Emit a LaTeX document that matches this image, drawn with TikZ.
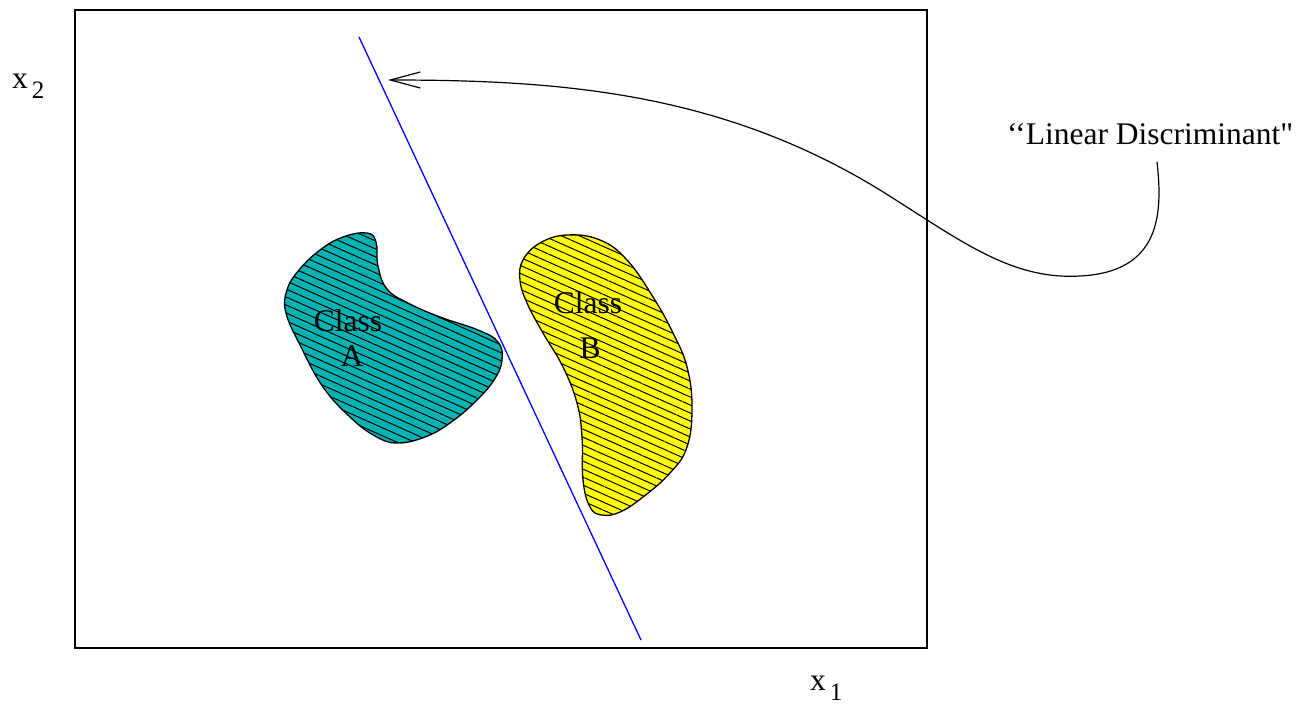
\documentclass[tikz,border=0pt]{standalone}
\usepackage{fontspec}
\setmainfont{Liberation Serif}[Ligatures=TeXOff]
\usetikzlibrary{arrows.meta,patterns.meta}
\definecolor{tealA}{RGB}{0,178,178}
\definecolor{yellowB}{RGB}{255,255,0}
\definecolor{lineblue}{RGB}{0,0,255}
\begin{document}
\begin{tikzpicture}[x=1pt,y=-1pt,
  bigtext/.style={font=\fontsize{31.5}{36}\selectfont, inner sep=0pt},
  blob/.style={draw=black, line width=1.3pt, fill=#1,
    postaction={pattern={Lines[angle=-24,distance=7.3pt,line width=1pt]}, pattern color=black}},
  frame/.style={draw=black, line width=1.3pt},
  discr/.style={draw=lineblue, line width=1.3pt},
  pointer/.style={draw=black, line width=1.2pt, -{Straight Barb[length=30pt,width=16pt,line width=1.2pt]}}
]
\useasboundingbox (0,0) rectangle (1303,705);
\path[fill=white] (0,0) rectangle (1303,705);

% frame
\draw[frame] (75,10) rectangle (927,648);

% class A blob
\path[blob=tealA] plot[smooth cycle, tension=0.7] coordinates {
 (367,233) (376,242) (378,266) (387,289) (408,303) (440,317) (478,330) (498,342)
 (502,360) (494,380) (475,402) (450,423) (425,437) (397,443) (375,436) (350,417)
 (323,387) (301,347) (286,313) (287,290) (299,270) (320,250) (343,237)};

% class B blob
\path[blob=yellowB] plot[smooth cycle, tension=0.7] coordinates {
 (567,235) (540,243) (523,260) (520,280) (527,303) (543,333) (563,367) (577,403)
 (582,437) (583,480) (590,507) (602,515) (620,512) (643,497) (670,473) (687,447)
 (692,407) (687,367) (673,333) (653,297) (627,260) (600,240)};

% labels inside blobs
\node[bigtext, anchor=base] (classA) at (348,331) {Class};
\node[bigtext, anchor=base] (labA) at (352,366) {A};
\node[bigtext, anchor=base] (classB) at (588,313) {Class};
\node[bigtext, anchor=base] (labB) at (590,358) {B};

% discriminant line
\coordinate (dtop) at (359,37);
\coordinate (dbot) at (641,640);
\draw[discr] (dtop) -- (dbot);

% label and pointer
\node[bigtext, anchor=base west] (ld) at (1007,144)
  {\textquoteleft\textquoteleft Linear Discriminant"};
\coordinate (ps) at (1157,162);
\coordinate (pt) at (388,80);
\draw[pointer] (ps) .. controls (1163,215) and (1160,272) .. (1080,276)
  .. controls (1010,280) and (960,240) .. (880,190)
  .. controls (720,92) and (560,80) .. (pt);

% axis labels
\node[bigtext, anchor=base west] (x2) at (12,88)
  {x\hspace{4pt}\raisebox{-10pt}{\fontsize{25}{25}\selectfont 2}};
\node[bigtext, anchor=base west] (x1) at (810,690)
  {x\hspace{4pt}\raisebox{-10pt}{\fontsize{25}{25}\selectfont 1}};
\end{tikzpicture}
\end{document}
